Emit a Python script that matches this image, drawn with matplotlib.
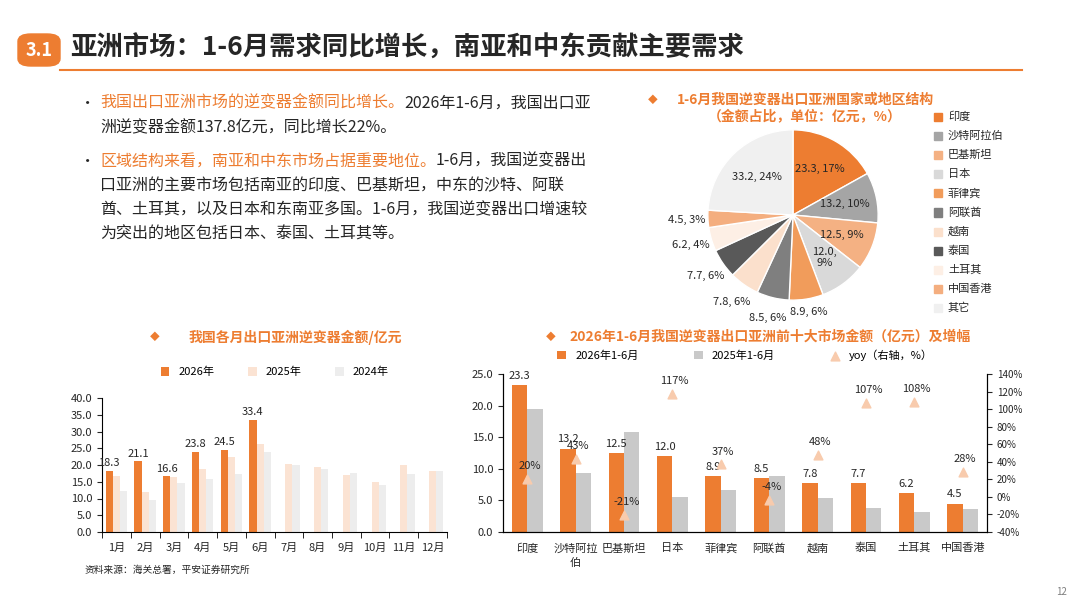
import matplotlib
matplotlib.use("Agg")
import matplotlib.pyplot as plt
import numpy as np
from matplotlib.patches import FancyBboxPatch

plt.rcParams["font.family"] = ["Noto Sans CJK SC", "DejaVu Sans"]
plt.rcParams["axes.unicode_minus"] = False

ORANGE = "#ED7D31"
GREY = "#BFBFBF"
TEXT = "#262626"

# ── 数据 ──────────────────────────────────────────────
pie_labels = ["印度", "沙特阿拉伯", "巴基斯坦", "日本", "菲律宾", "阿联酋",
              "越南", "泰国", "土耳其", "中国香港", "其它"]
pie_values = [23.3, 13.2, 12.5, 12.0, 8.9, 8.5, 7.8, 7.7, 6.2, 4.5, 33.2]
pie_pcts = [17, 10, 9, 9, 6, 6, 6, 6, 4, 3, 24]
pie_colors = ["#ED7D31", "#A5A5A5", "#F4B183", "#D9D9D9", "#F19C5B", "#7F7F7F",
              "#FBE0CC", "#595959", "#FDEFE5", "#F4AE7F", "#F0F0F0"]

months = ["1月", "2月", "3月", "4月", "5月", "6月", "7月", "8月", "9月", "10月", "11月", "12月"]
y2026 = [18.3, 21.1, 16.6, 23.8, 24.5, 33.4]
y2025 = [16.6, 11.8, 16.3, 18.9, 22.3, 26.3, 20.4, 19.4, 16.9, 14.8, 20.0, 18.2]
y2024 = [12.2, 9.5, 14.5, 15.8, 17.2, 24.0, 20.1, 18.9, 17.6, 13.9, 17.3, 18.2]

markets = ["印度", "沙特阿拉\n伯", "巴基斯坦", "日本", "菲律宾", "阿联酋",
           "越南", "泰国", "土耳其", "中国香港"]
h2026 = [23.3, 13.2, 12.5, 12.0, 8.9, 8.5, 7.8, 7.7, 6.2, 4.5]
h2025 = [19.4, 9.3, 15.8, 5.6, 6.6, 8.9, 5.4, 3.8, 3.1, 3.6]
yoy = [20, 43, -21, 117, 37, -4, 48, 107, 108, 28]

W, H = 1080, 608
fig = plt.figure(figsize=(W / 100, H / 100), dpi=100, facecolor="white")


def ax_px(l, t, r, b):
    return fig.add_axes([l / W, 1 - b / H, (r - l) / W, (b - t) / H])


def ftxt(x, y, s, **kw):
    return fig.text(x / W, 1 - y / H, s, **kw)


# ── 页眉 ──────────────────────────────────────────────
box = FancyBboxPatch((18 / W, 1 - 66 / H), 42 / W, 32 / H,
                     boxstyle="round,pad=0,rounding_size=0.012",
                     transform=fig.transFigure, color=ORANGE)
fig.patches.append(box)
ftxt(39, 50, "3.1", color="white", fontsize=13, fontweight="bold", ha="center", va="center")
ftxt(70, 48, "亚洲市场：1-6月需求同比增长，南亚和中东贡献主要需求",
     fontsize=19, fontweight="bold", color=TEXT, va="center")
fig.add_artist(plt.Line2D([60 / W, 1022 / W], [1 - 70 / H] * 2, color=ORANGE, lw=1.5))

# ── 正文 ──────────────────────────────────────────────
renderer = fig.canvas.get_renderer()


def seg_line(x, y, segs):
    for s, c in segs:
        t = ftxt(x, y, s, color=c, fontsize=11.5, va="center")
        x += t.get_window_extent(renderer).width
    return x


lines = [
    (103, [("我国出口亚洲市场的逆变器金额同比增长。", ORANGE), ("2026年1-6月，我国出口亚", TEXT)]),
    (128, [("洲逆变器金额137.8亿元，同比增长22%。", TEXT)]),
    (161, [("区域结构来看，南亚和中东市场占据重要地位。", ORANGE), ("1-6月，我国逆变器出", TEXT)]),
    (186, [("口亚洲的主要市场包括南亚的印度、巴基斯坦，中东的沙特、阿联", TEXT)]),
    (210, [("酋、土耳其，以及日本和东南亚多国。1-6月，我国逆变器出口增速较", TEXT)]),
    (234, [("为突出的地区包括日本、泰国、土耳其等。", TEXT)]),
]
for y, segs in lines:
    seg_line(100, y, segs)
for y in (103, 161):
    ftxt(80, y, "•", fontsize=11, color=TEXT, va="center")

# ── 饼图 ──────────────────────────────────────────────
ftxt(648, 100, "◆", fontsize=7, color=ORANGE, va="center")
ftxt(805, 100, "1-6月我国逆变器出口亚洲国家或地区结构", fontsize=10, fontweight="bold",
     color=ORANGE, ha="center", va="center")
ftxt(805, 116, "（金额占比，单位：亿元，%）", fontsize=10, fontweight="bold",
     color=ORANGE, ha="center", va="center")

axp = ax_px(707, 129, 879, 301)
wedges, _ = axp.pie(pie_values, colors=pie_colors, startangle=90, counterclock=False,
                    wedgeprops=dict(edgecolor="white", linewidth=1))
axp.set_aspect("equal")
axp.set_xlim(-1.01, 1.01)
axp.set_ylim(-1.01, 1.01)
for i, w in enumerate(wedges):
    ang = np.deg2rad((w.theta1 + w.theta2) / 2)
    lab = f"{pie_values[i]}, {pie_pcts[i]}%"
    if pie_labels[i] == "日本":
        lab = f"{pie_values[i]},\n{pie_pcts[i]}%"
    r = 0.62 if pie_values[i] >= 12 else 1.25
    if pie_labels[i] == "菲律宾":
        r = 1.15
    axp.text(r * np.cos(ang), r * np.sin(ang), lab, ha="center", va="center",
             fontsize=8, color=TEXT)

for i, (lab, c) in enumerate(zip(pie_labels, pie_colors)):
    y = 117 + i * 19.1
    fig.patches.append(plt.Rectangle((934 / W, 1 - (y + 4) / H), 8 / W, 8 / H,
                                     transform=fig.transFigure, color=c))
    ftxt(948, y, lab, fontsize=8, color=TEXT, va="center")

# ── 各月出口 ──────────────────────────────────────────
ftxt(150, 337, "◆", fontsize=7, color=ORANGE, va="center")
ftxt(295, 337, "我国各月出口亚洲逆变器金额/亿元", fontsize=10, fontweight="bold",
     color=ORANGE, ha="center", va="center")
axm = ax_px(102, 398, 447, 532)
x = np.arange(len(months))
bw = 0.25
b1 = axm.bar(x[:len(y2026)] - bw, y2026, bw, color=ORANGE, label="2026年")
axm.bar(x, y2025, bw, color="#FBE3D3", label="2025年")
axm.bar(x + bw, y2024, bw, color="#EDEDED", label="2024年")
axm.bar_label(b1, labels=[f"{v}" for v in y2026], fontsize=8, color=TEXT, padding=2)
axm.set_ylim(0, 40)
axm.set_yticks(np.arange(0, 41, 5))
axm.set_yticklabels([f"{v:.1f}" for v in np.arange(0, 41, 5)])
axm.set_xlim(-0.5, 11.5)
axm.set_xticks(x)
axm.set_xticklabels(months)
axm.set_xticks(np.arange(-0.5, 12, 1), minor=True)
axm.tick_params(axis="x", which="major", length=0, pad=8)
axm.tick_params(axis="x", which="minor", length=4)
axm.tick_params(labelsize=8, colors=TEXT)
for s in ("top", "right"):
    axm.spines[s].set_visible(False)
axm.legend(loc="lower center", bbox_to_anchor=(0.5, 1.08), ncol=3, frameon=False,
           fontsize=8, handlelength=0.8, handleheight=0.8, columnspacing=3)

ftxt(85, 570, "资料来源：海关总署，平安证券研究所", fontsize=7, color=TEXT, va="center")

# ── 前十大市场 ────────────────────────────────────────
ftxt(546, 337, "◆", fontsize=7, color=ORANGE, va="center")
ftxt(770, 337, "2026年1-6月我国逆变器出口亚洲前十大市场金额（亿元）及增幅", fontsize=10,
     fontweight="bold", color=ORANGE, ha="center", va="center")
axt = ax_px(503, 374, 987, 532)
x = np.arange(len(markets))
bw = 0.32
t1 = axt.bar(x - bw / 2, h2026, bw, color=ORANGE, label="2026年1-6月")
axt.bar(x + bw / 2, h2025, bw, color="#C9C9C9", label="2025年1-6月")
axt.bar_label(t1, labels=[f"{v}" for v in h2026], fontsize=8, color=TEXT, padding=3)
axt.set_ylim(0, 25)
axt.set_yticks(np.arange(0, 26, 5))
axt.set_yticklabels([f"{v:.1f}" for v in np.arange(0, 26, 5)])
axt.set_xlim(-0.5, 9.5)
axt.set_xticks(x)
axt.set_xticklabels(markets, linespacing=1.6)
axt.tick_params(axis="x", length=0, pad=8)
axt.tick_params(labelsize=8, colors=TEXT)
axt.spines["top"].set_visible(False)
axr = axt.twinx()
axr.scatter(x, yoy, marker="^", s=40, color="#F8CBAD", label="yoy（右轴，%）", zorder=3)
for xi, v in zip(x, yoy):
    axr.text(xi + 0.05, v + 9, f"{v}%", ha="center", va="bottom", fontsize=8, color=TEXT)
axr.set_ylim(-40, 140)
axr.set_yticks(np.arange(-40, 141, 20))
axr.set_yticklabels([f"{v}%" for v in np.arange(-40, 141, 20)])
axr.tick_params(labelsize=7, colors=TEXT)
axr.spines["top"].set_visible(False)
h1, l1 = axt.get_legend_handles_labels()
h2, l2 = axr.get_legend_handles_labels()
axt.legend(h1 + h2, l1 + l2, loc="lower center", bbox_to_anchor=(0.5, 1.02), ncol=3,
           frameon=False, fontsize=8, handlelength=0.8, handleheight=0.8, columnspacing=5)

ftxt(1062, 592, "12", fontsize=7, color="#7F7F7F", ha="center", va="center")

fig.savefig("out.png", dpi=100, facecolor="white")
